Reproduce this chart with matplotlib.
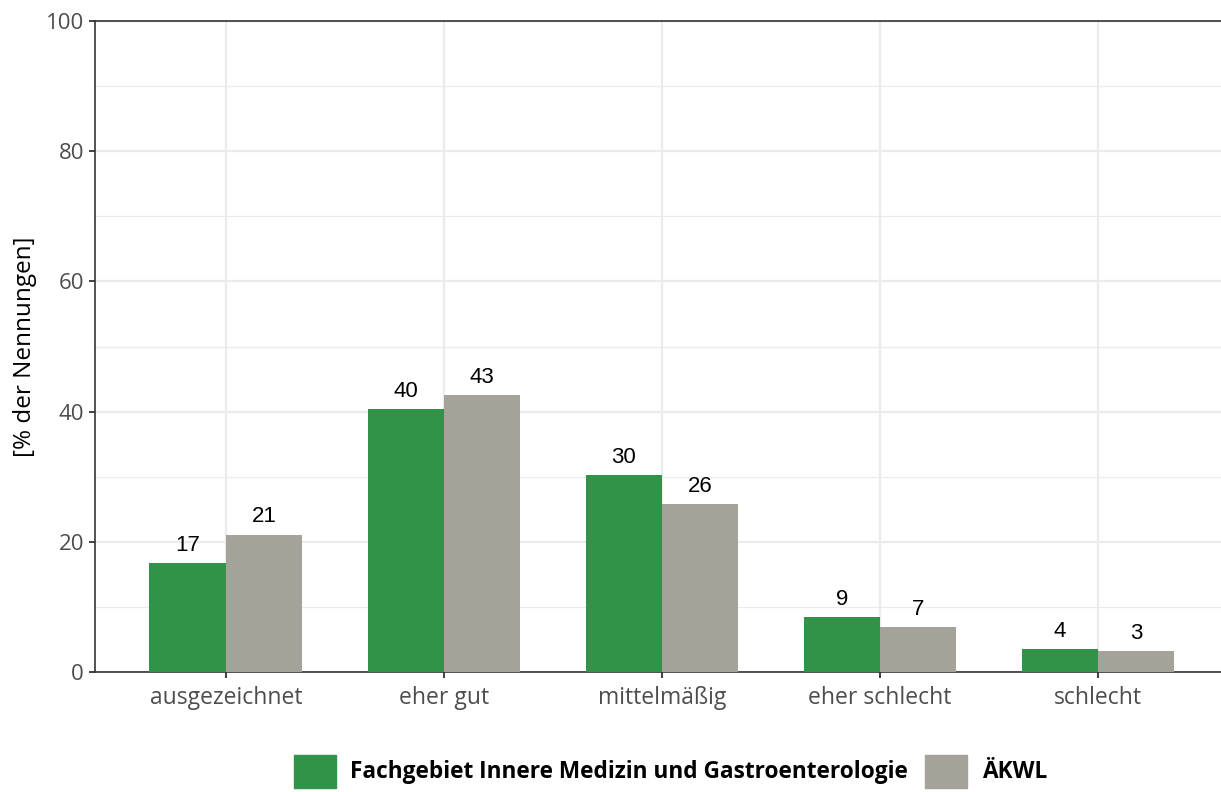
import matplotlib.pyplot as plt
from matplotlib.patches import Patch
import numpy as np

categories = ["ausgezeichnet", "eher gut", "mittelmäßig", "eher schlecht", "schlecht"]
fach_values = [16.7, 40.4, 30.3, 8.5, 3.5]
aekwl_values = [21.1, 42.5, 25.8, 6.9, 3.2]
fach_labels = ["17", "40", "30", "9", "4"]
aekwl_labels = ["21", "43", "26", "7", "3"]
series_names = ["Fachgebiet Innere Medizin und Gastroenterologie", "ÄKWL"]

green = "#31924A"
grey = "#A5A29A"

fig = plt.figure(figsize=(12.21, 7.92), dpi=100)
ax = fig.add_axes([0.0778, 0.1515, 0.9222, 0.822])

x = np.arange(len(categories))
w = 0.35
ax.bar(x - w / 2, fach_values, width=w, color=green, zorder=3)
ax.bar(x + w / 2, aekwl_values, width=w, color=grey, zorder=3)

# value labels above bars
for xi, v, lab in zip(x, fach_values, fach_labels):
    ax.text(xi - w / 2, v + 1.1, lab, ha="center", va="bottom",
            fontsize=16, family="Liberation Sans", color="black", zorder=4)
for xi, v, lab in zip(x, aekwl_values, aekwl_labels):
    ax.text(xi + w / 2, v + 1.1, lab, ha="center", va="bottom",
            fontsize=16, family="Liberation Sans", color="black", zorder=4)

ax.set_xlim(-0.6, 4.565)
ax.set_ylim(0, 100)
ax.set_xticks(x)
ax.set_xticklabels(categories, family="Open Sans", fontsize=16.5, color="#4D4D4D")
ax.set_yticks(np.arange(0, 101, 20))
ax.set_yticks(np.arange(10, 100, 20), minor=True)
for lab in ax.get_yticklabels():
    lab.set_family("Open Sans")
    lab.set_fontsize(16)
    lab.set_color("#4D4D4D")

ax.grid(which="major", color="#EBEBEB", linewidth=1.6, zorder=0)
ax.grid(which="minor", axis="y", color="#EBEBEB", linewidth=0.9, zorder=0)
ax.tick_params(which="major", length=4, width=1.3, color="#333333", pad=4)
ax.tick_params(axis="x", pad=6)
ax.tick_params(which="minor", length=0)

ax.spines["right"].set_visible(False)
for s in ["left", "bottom", "top"]:
    ax.spines[s].set_color("#333333")
    ax.spines[s].set_linewidth(1.2)

ax.set_ylabel("[% der Nennungen]", family="Open Sans", fontsize=17.5,
              color="black", labelpad=6)

handles = [Patch(color=green), Patch(color=grey)]
fig.legend(handles, series_names, loc="upper center",
           bbox_to_anchor=(0.549, 0.047), ncol=2, frameon=False,
           prop={"family": "Open Sans", "weight": "bold", "size": 16.3},
           handlelength=1.85, handleheight=1.85, handletextpad=0.65,
           columnspacing=0.75, borderpad=0, borderaxespad=0)

fig.savefig("out.png", dpi=100)
